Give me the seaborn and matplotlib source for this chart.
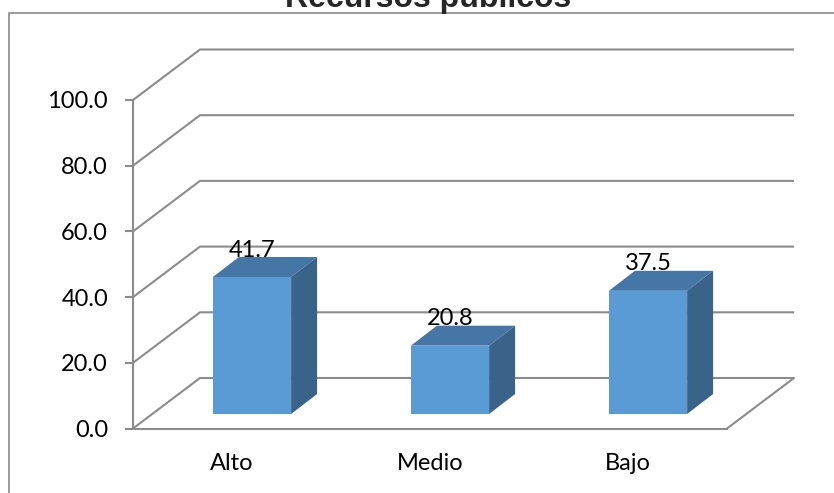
import matplotlib
matplotlib.use("Agg")
import matplotlib.pyplot as plt
from matplotlib.patches import Polygon, Rectangle
import seaborn as sns

# Data
categories = ["Alto", "Medio", "Bajo"]
values = [41.7, 20.8, 37.5]
y_ticks = [0, 20, 40, 60, 80, 100]
title = "Recursos públicos"

FRONT = "#5B9BD5"
TOP = "#4676A6"
SIDE = "#3A6389"
GRID = "#8C8C8C"
FS = 17

sns.set_theme(style="white")
plt.rcParams["font.family"] = ["Lato", "DejaVu Sans"]

W, H = 834, 493
fig = plt.figure(figsize=(W / 100, H / 100), dpi=100)
ax = fig.add_axes([133 / W, (H - 428.5) / H, 594 / W, 328.5 / H])
ax.set_xlim(-0.5, 2.5)
ax.set_ylim(0, 100)
ax.patch.set_alpha(0)

# pixel -> data unit conversion for the pseudo-3D depth offsets
(x0p, y0p), (x1p, y1p) = ax.transData.transform([(0, 0), (1, 1)])
px_x = x1p - x0p
px_y = y1p - y0p


def off(x, y, dx, dy):
    return (x + dx / px_x, y + dy / px_y)


WALL = (67, 50.5)       # depth of the floor / back wall
BAR_FRONT = (20, 14.5)  # front face of the bars sits inside the floor
BAR_DEPTH = (26, 20)    # depth of each bar
BAR_W = 0.395

# back wall gridlines and the connecting diagonals
for v in y_ticks:
    a = (-0.5, v)
    b = off(-0.5, v, *WALL)
    c = off(2.5, v, *WALL)
    ax.plot([a[0], b[0], c[0]], [a[1], b[1], c[1]], color=GRID, lw=1.5,
            clip_on=False, zorder=1, solid_capstyle="butt")
# right edge of the floor
fr = off(2.5, 0, *WALL)
ax.plot([2.5, fr[0]], [0, fr[1]], color=GRID, lw=1.5, clip_on=False, zorder=1)

# front faces of the bars
sns.barplot(x=categories, y=values, color=FRONT, saturation=1, width=BAR_W,
            ax=ax, zorder=3, linewidth=0)
for p in ax.patches:
    x, y = p.get_xy()
    nx, ny = off(x, y, *BAR_FRONT)
    p.set_xy((nx, ny))
    p.set_clip_on(False)

# top and side faces, plus value labels
for i, v in enumerate(values):
    xl, xr = i - BAR_W / 2, i + BAR_W / 2
    fr_b = off(xr, 0, *BAR_FRONT)
    fl_t = off(xl, v, *BAR_FRONT)
    fr_t = off(xr, v, *BAR_FRONT)
    bdx, bdy = BAR_FRONT[0] + BAR_DEPTH[0], BAR_FRONT[1] + BAR_DEPTH[1]
    bl_t = off(xl, v, bdx, bdy)
    br_t = off(xr, v, bdx, bdy)
    br_b = off(xr, 0, bdx, bdy)
    ax.add_patch(Polygon([fl_t, fr_t, br_t, bl_t], closed=True, fc=TOP, ec="none",
                         zorder=3, clip_on=False))
    ax.add_patch(Polygon([fr_b, fr_t, br_t, br_b], closed=True, fc=SIDE, ec="none",
                         zorder=3, clip_on=False))
    lx, ly = off(i, v, BAR_FRONT[0], BAR_FRONT[1] + 27)
    ax.text(lx, ly, f"{v:.1f}", ha="center", va="center", fontsize=FS,
            color="black", zorder=5, clip_on=False)

# axes: front left axis and front floor edge
for s in ["top", "right"]:
    ax.spines[s].set_visible(False)
for s in ["left", "bottom"]:
    ax.spines[s].set_visible(True)
    ax.spines[s].set_color(GRID)
    ax.spines[s].set_linewidth(1.5)
    ax.spines[s].set_zorder(2)
ax.set_yticks(y_ticks)
ax.set_yticklabels([f"{t:.1f}" for t in y_ticks])
ax.tick_params(axis="y", direction="out", length=6, width=1.5, color=GRID,
               pad=12, labelsize=FS, labelcolor="black", left=True)
ax.tick_params(axis="x", length=0, pad=18, labelsize=FS, labelcolor="black")
ax.set_xlabel("")
ax.set_ylabel("")
ax.grid(False)

# chart frame and title
fig.patches.append(Rectangle((8.5 / W, -0.2), 1.2, 1.2 - 13 / H, transform=fig.transFigure,
                             fill=False, ec="#8A8A8A", lw=1.2, zorder=0))
fig.text(428 / W, 1 - 7 / H, title, ha="center", va="baseline",
         fontsize=23, fontweight="bold", family=["Liberation Sans", "DejaVu Sans"])

fig.savefig("out.png", dpi=100)
